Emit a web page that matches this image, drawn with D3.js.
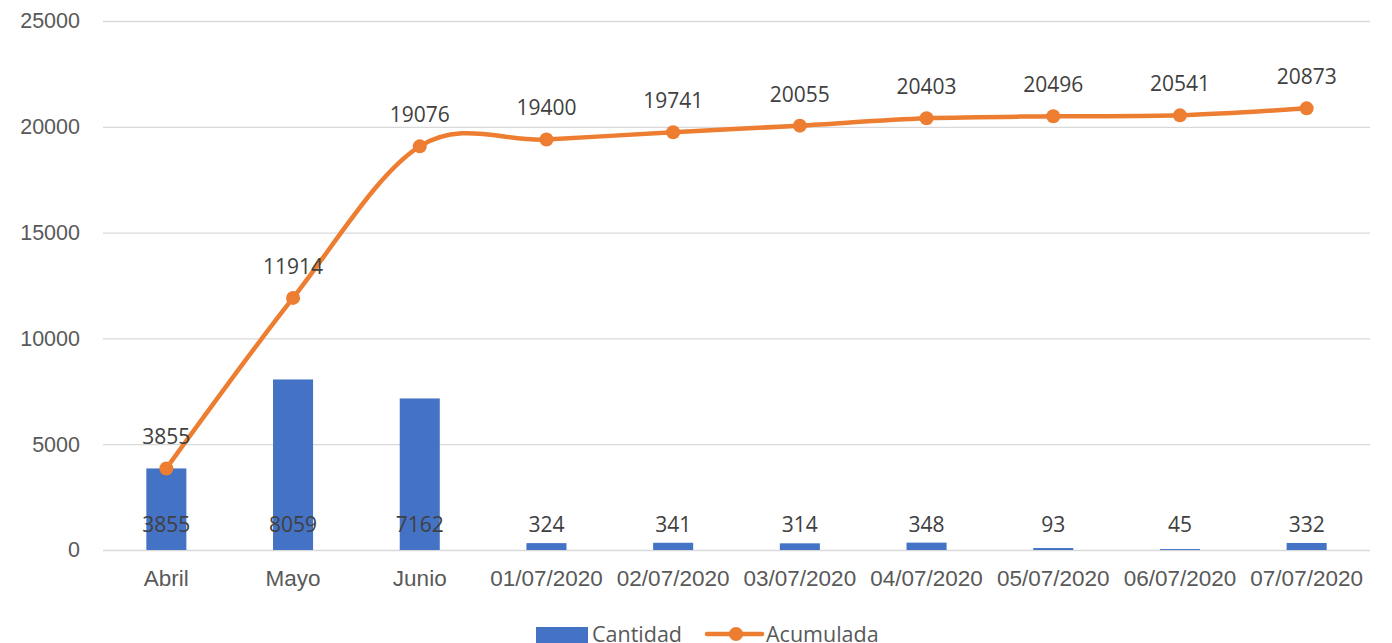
<!DOCTYPE html>
<html>
<head>
<meta charset="utf-8">
<script src="https://cdn.jsdelivr.net/npm/d3@7"></script>
<style>
  html, body { margin: 0; padding: 0; background: #fff; overflow: hidden; }
  svg { display: block; font-family: "Open Sans", "Liberation Sans", sans-serif; }
</style>
</head>
<body>
<svg id="chart" width="1392" height="643"></svg>
<script>
// Daily and cumulative counts
const categories = ["Abril", "Mayo", "Junio", "01/07/2020", "02/07/2020", "03/07/2020",
                    "04/07/2020", "05/07/2020", "06/07/2020", "07/07/2020"];
const cantidad = [3855, 8059, 7162, 324, 341, 314, 348, 93, 45, 332];
const acumulada = [3855, 11914, 19076, 19400, 19741, 20055, 20403, 20496, 20541, 20873];
const yTicks = [0, 5000, 10000, 15000, 20000, 25000];
const seriesNames = ["Cantidad", "Acumulada"];

const BLUE = "#4472C4", ORANGE = "#ED7D31", TEXT = "#595959", LABEL = "#404040", GRID = "#d9d9d9";

const svg = d3.select("#chart");
const plotLeft = 103, plotRight = 1370, plotTop = 21, plotBottom = 550;

const x = d3.scaleBand().domain(categories).range([plotLeft, plotRight]).paddingInner(0).paddingOuter(0);
const y = d3.scaleLinear().domain([0, 25000]).range([plotBottom, plotTop]);
const cx = d => x(d) + x.bandwidth() / 2;
const barW = x.bandwidth() * 0.316;

// Gridlines and value axis
const yAxis = d3.axisLeft(y).tickValues(yTicks).tickSize(-(plotRight - plotLeft)).tickPadding(23).tickFormat(d3.format("d"));
const gy = svg.append("g").attr("transform", `translate(${plotLeft},0)`).call(yAxis);
gy.select(".domain").remove();
gy.selectAll(".tick line").attr("stroke", GRID).attr("stroke-width", 1.3);
gy.selectAll(".tick text").attr("fill", TEXT).style("font-size", "21.5px");

// Category axis
const xAxis = d3.axisBottom(x).tickSize(0).tickPadding(20);
const gx = svg.append("g").attr("transform", `translate(0,${plotBottom})`).call(xAxis);
gx.select(".domain").remove();
gx.selectAll(".tick text").attr("fill", TEXT).style("font-size", "22.5px");

// Bars
svg.append("g").selectAll("rect").data(categories).join("rect")
  .attr("x", (d) => cx(d) - barW / 2)
  .attr("width", barW)
  .attr("y", (d, i) => y(cantidad[i]))
  .attr("height", (d, i) => y(0) - y(cantidad[i]))
  .attr("fill", BLUE);

// Bar labels (inside base)
svg.append("g").selectAll("text").data(categories).join("text")
  .attr("x", d => cx(d))
  .attr("y", plotBottom - 18)
  .attr("text-anchor", "middle")
  .attr("fill", LABEL)
  .style("font-size", "21px")
  .text((d, i) => cantidad[i]);

// Cumulative line
const line = d3.line()
  .x((d, i) => cx(categories[i]))
  .y(d => y(d))
  .curve(d3.curveCatmullRom.alpha(0));
svg.append("path").datum(acumulada)
  .attr("d", line)
  .attr("fill", "none")
  .attr("stroke", ORANGE)
  .attr("stroke-width", 4.5)
  .attr("stroke-linecap", "round");

svg.append("g").selectAll("circle").data(acumulada).join("circle")
  .attr("cx", (d, i) => cx(categories[i]))
  .attr("cy", d => y(d))
  .attr("r", 7)
  .attr("fill", ORANGE);

svg.append("g").selectAll("text").data(acumulada).join("text")
  .attr("x", (d, i) => cx(categories[i]))
  .attr("y", d => y(d) - 24)
  .attr("text-anchor", "middle")
  .attr("fill", LABEL)
  .style("font-size", "21px")
  .text(d => d);

// Legend
const lg = svg.append("g");
lg.append("rect").attr("x", 536).attr("y", 627).attr("width", 52).attr("height", 16).attr("fill", BLUE);
lg.append("text").attr("x", 592).attr("y", 642).attr("fill", TEXT).style("font-size", "21.5px").text(seriesNames[0]);
lg.append("line").attr("x1", 707).attr("x2", 762).attr("y1", 634).attr("y2", 634)
  .attr("stroke", ORANGE).attr("stroke-width", 4.5).attr("stroke-linecap", "round");
lg.append("circle").attr("cx", 736).attr("cy", 634).attr("r", 7).attr("fill", ORANGE);
lg.append("text").attr("x", 766).attr("y", 642).attr("fill", TEXT).style("font-size", "21.5px").text(seriesNames[1]);
</script>
</body>
</html>
